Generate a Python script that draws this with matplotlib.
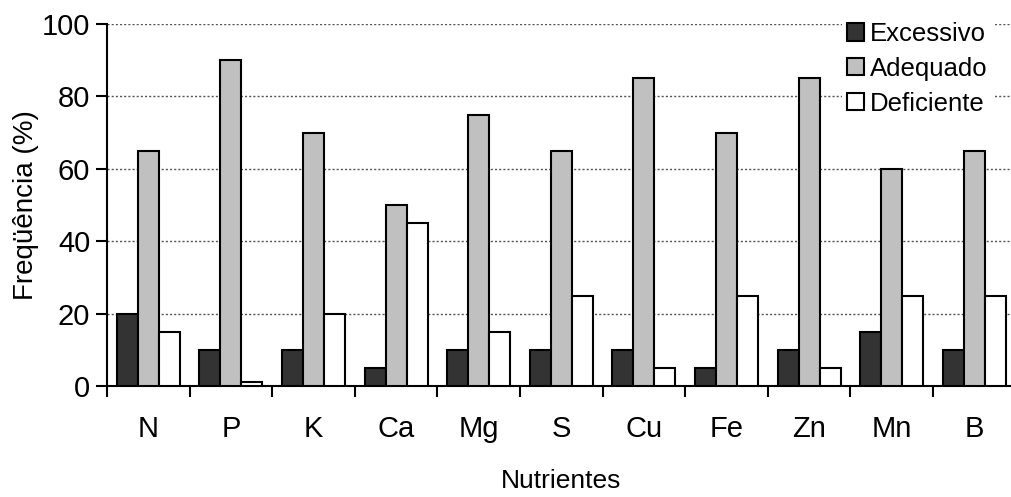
import matplotlib.pyplot as plt
import numpy as np

plt.rcParams['font.family'] = ['Liberation Sans', 'DejaVu Sans']

nutrientes = ['N', 'P', 'K', 'Ca', 'Mg', 'S', 'Cu', 'Fe', 'Zn', 'Mn', 'B']
excessivo = [20, 10, 10, 5, 10, 10, 10, 5, 10, 15, 10]
adequado = [65, 90, 70, 50, 75, 65, 85, 70, 85, 60, 65]
deficiente = [15, 1, 20, 45, 15, 25, 5, 25, 5, 25, 25]

fig = plt.figure(figsize=(10.11, 4.97), dpi=100)
ax = fig.add_axes([107 / 1011, 1 - 386 / 497, 908.6 / 1011, 362 / 497])

x = np.arange(len(nutrientes)) + 0.5
w = 0.254
series = [(excessivo, '#333333', 'Excessivo'),
          (adequado, '#c0c0c0', 'Adequado'),
          (deficiente, 'white', 'Deficiente')]
for k, (vals, cor, nome) in enumerate(series):
    ax.bar(x + (k - 1) * w, vals, w, color=cor, edgecolor='black',
           linewidth=1.5, label=nome, zorder=3)

ax.set_xlim(0, len(nutrientes))
ax.set_ylim(0, 100)
ax.set_yticks(range(0, 101, 20))
ax.set_xticks(x)
ax.set_xticklabels(nutrientes)
ax.set_xticks(np.arange(len(nutrientes)), minor=True)
ax.tick_params(axis='x', which='major', length=0, labelsize=21, pad=21)
ax.tick_params(axis='x', which='minor', length=8, width=1.5, direction='out')
ax.tick_params(axis='y', length=8, width=1.5, labelsize=21, pad=4)

for s in ['top', 'right']:
    ax.spines[s].set_visible(False)
for s in ['left', 'bottom']:
    ax.spines[s].set_linewidth(1.5)

ax.yaxis.grid(True, linestyle=(0, (1.5, 1.5)), color='#555555', linewidth=1, zorder=0)
ax.set_axisbelow(True)

ax.set_ylabel('Freqüência (%)', fontsize=20, labelpad=2)
ax.set_xlabel('Nutrientes', fontsize=19, labelpad=18.5)

leg = ax.legend(loc='upper right', bbox_to_anchor=(0.989, 1.055), frameon=True,
                fontsize=18.5, handlelength=0.65, handleheight=0.65,
                handletextpad=0.25, labelspacing=0.42, borderpad=0.2)
leg.get_frame().set_edgecolor('none')
leg.get_frame().set_facecolor('white')
leg.get_frame().set_alpha(1)
leg.set_zorder(5)

fig.savefig('out.png', dpi=100)
